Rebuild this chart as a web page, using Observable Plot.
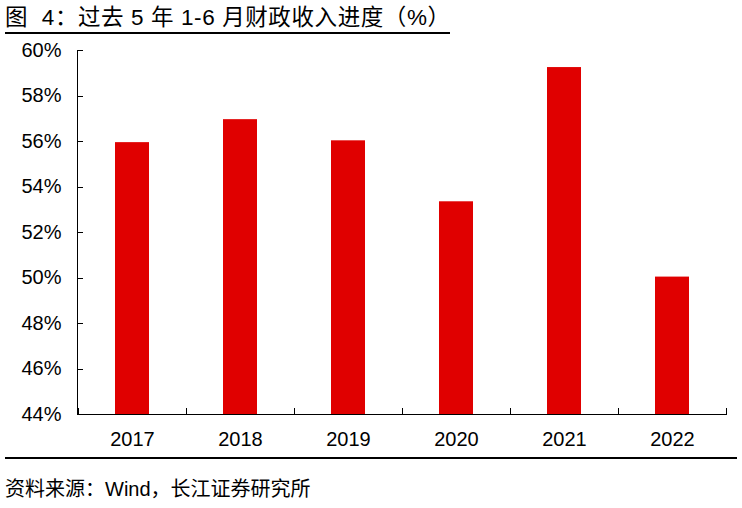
<!DOCTYPE html>
<html><head><meta charset="utf-8">
<script src="https://cdn.jsdelivr.net/npm/d3@7"></script>
<script src="https://cdn.jsdelivr.net/npm/@observablehq/plot@0.6"></script>
<style>
body{margin:0;background:#fff;font-family:"Liberation Sans","Noto Sans CJK SC",sans-serif;}
#wrap{width:742px;position:relative;}
#title{margin:0 0 0 5px;width:445px;height:32px;border-bottom:2px solid #000;font-size:22.5px;line-height:36px;letter-spacing:0.6px;color:#000;white-space:nowrap;overflow:visible;}
#chart{height:423px;}
#foot{margin:0 5px;border-top:2px solid #000;font-size:20px;line-height:23px;padding-top:19px;color:#000;white-space:nowrap;}
</style></head>
<body><div id="wrap">
<div id="title">图&nbsp;&nbsp;4：过去 5 年 1-6 月财政收入进度（%）</div>
<div id="chart"></div>
<div id="foot">资料来源：Wind，长江证券研究所</div>
</div>
<script>
const years = ["2017","2018","2019","2020","2021","2022"];
const progress = [55.95, 56.96, 56.03, 53.35, 59.25, 50.04];
const yTicks = [44,46,48,50,52,54,56,58,60];
const data = years.map((y,i)=>({year:y, value:progress[i]}));

const axes = (index, scales, values, dims) => {
  const g = d3.create("svg:g").attr("stroke","#000").attr("stroke-width",1).attr("fill","none");
  const x = scales.x, y = scales.y;
  const x0 = dims.marginLeft, x1 = dims.width - dims.marginRight;
  const yb = y(44), yt = y(60);
  g.append("line").attr("x1",x0+0.5).attr("x2",x0+0.5).attr("y1",yt).attr("y2",yb);
  g.append("line").attr("x1",x0).attr("x2",x1+1).attr("y1",yb+0.5).attr("y2",yb+0.5);
  yTicks.forEach(t => g.append("line").attr("x1",x0).attr("x2",x0+6).attr("y1",Math.round(y(t))+0.5).attr("y2",Math.round(y(t))+0.5));
  const bounds = years.map(d=>x(d)).concat([x(years[years.length-1])+x.bandwidth()]);
  bounds.forEach(b => g.append("line").attr("x1",Math.round(b)+0.5).attr("x2",Math.round(b)+0.5).attr("y1",yb).attr("y2",yb-6));
  return g.node();
};

const chart = Plot.plot({
  width: 742, height: 423,
  marginLeft: 77, marginRight: 16, marginTop: 16, marginBottom: 43,
  style: {fontFamily: '"Liberation Sans","Noto Sans CJK SC",sans-serif', background: "#fff", color:"#000"},
  x: {domain: years, padding: 0, label: null},
  y: {domain: [44, 60], label: null},
  marks: [
    Plot.barY(data, {x: "year", y1: 44, y2: "value", fill: "#e00000", insetLeft: 37, insetRight: 37}),
    Plot.axisY({ticks: yTicks, tickSize: 0, tickPadding: 16, tickFormat: d => d + "%", fontSize: 20, label: null}),
    Plot.axisX({tickSize: 0, tickPadding: 17, fontSize: 20, label: null}),
    axes
  ]
});
document.getElementById("chart").appendChild(chart);
</script>
</body></html>
